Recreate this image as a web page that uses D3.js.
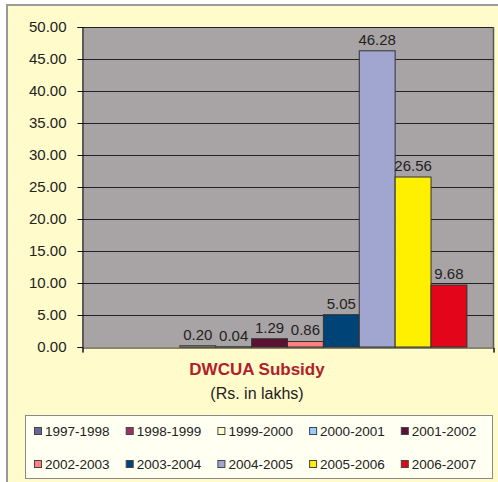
<!DOCTYPE html>
<html><head><meta charset="utf-8">
<script src="https://cdn.jsdelivr.net/npm/d3@7/dist/d3.min.js"></script>
<style>body{margin:0;background:#fff}svg{display:block;font-family:"Liberation Sans",Arial,sans-serif}</style>
</head><body>
<script>
const categories = ["1997-1998","1998-1999","1999-2000","2000-2001","2001-2002","2002-2003","2003-2004","2004-2005","2005-2006","2006-2007"];
const values = [null, null, 0.20, 0.04, 1.29, 0.86, 5.05, 46.28, 26.56, 9.68];
const labels = ["", "", "0.20", "0.04", "1.29", "0.86", "5.05", "46.28", "26.56", "9.68"];
const colors = ["#666699","#993366","#FFFFCC","#99CCFF","#5C1033","#FF8080","#004477","#A0A6D0","#FFF000","#E3061A"];
const yTicks = [0,5,10,15,20,25,30,35,40,45,50];
const title = "DWCUA Subsidy";
const subtitle = "(Rs. in lakhs)";

const W = 498, H = 482;
const svg = d3.select("body").append("svg").attr("width", W).attr("height", H);

svg.append("rect").attr("x",7).attr("y",5).attr("width",520).attr("height",520)
  .attr("fill","#FFFBCB").attr("stroke","#9a9a9a").attr("stroke-width",2);

const pl = 82, pr = 493, pt = 27, pb = 347;
const y = d3.scaleLinear().domain([0,50]).range([pb, pt]);
const gap = (pr - pl) * 0.0635;
const x = d3.scaleBand().domain(categories).range([pl + gap, pr - gap]).padding(0);

svg.append("rect").attr("x",pl).attr("y",pt).attr("width",pr-pl).attr("height",pb-pt)
  .attr("fill","#A8A4A6");

// gridlines
svg.append("g").selectAll("line").data(yTicks.filter(d=>d>0)).join("line")
  .attr("x1",pl).attr("x2",pr).attr("y1",d=>Math.round(y(d))+0.5).attr("y2",d=>Math.round(y(d))+0.5)
  .attr("stroke","#222").attr("stroke-width",1.2);
// right border
svg.append("line").attr("x1",pr+0.5).attr("x2",pr+0.5).attr("y1",pt).attr("y2",pb)
  .attr("stroke","#555").attr("stroke-width",1.5);

const rows = categories.map((c,i)=>({c, v: values[i], col: colors[i], lab: labels[i]})).filter(d=>d.v!=null);

// bars
svg.append("g").selectAll("rect").data(rows).join("rect")
  .attr("x",d=>x(d.c)).attr("width",x.bandwidth())
  .attr("y",d=>y(d.v)).attr("height",d=>pb - y(d.v))
  .attr("fill",d=>d.col).attr("stroke","#333").attr("stroke-width",1);

// data labels
svg.append("g").selectAll("text").data(rows).join("text")
  .attr("x",d=>x(d.c)+x.bandwidth()/2).attr("y",d=>y(d.v)-6)
  .attr("text-anchor","middle").attr("font-size",15).attr("fill","#222")
  .text(d=>d.lab);

// y axis
const yAxis = d3.axisLeft(y).tickValues(yTicks).tickFormat(d3.format(".2f")).tickSize(5).tickPadding(11);
const ga = svg.append("g").attr("transform",`translate(${pl+0.5},0)`).call(yAxis);
ga.select(".domain").attr("stroke","#111");
ga.selectAll(".tick line").attr("stroke","#111");
ga.selectAll("text").attr("font-size",15).attr("fill","#222").attr("font-family","Liberation Sans, Arial, sans-serif");

// x axis
const xAxis = d3.axisBottom(d3.scaleLinear().domain([0,1]).range([pl,pr])).tickValues([0,1]).tickSize(5).tickFormat("");
const gx = svg.append("g").attr("transform",`translate(0.5,${pb+0.5})`).call(xAxis);
gx.select(".domain").attr("stroke","#111");
gx.selectAll(".tick line").attr("stroke","#111");

// titles
svg.append("text").attr("x",257).attr("y",375).attr("text-anchor","middle")
  .attr("font-size",17).attr("font-weight","bold").attr("fill","#B0202A").text(title);
svg.append("text").attr("x",257).attr("y",399).attr("text-anchor","middle")
  .attr("font-size",16).attr("fill","#222").text(subtitle);

// legend
svg.append("rect").attr("x",25.5).attr("y",415.5).attr("width",467).attr("height",63)
  .attr("fill","#FFFFF2").attr("stroke","#8a8a8a").attr("stroke-width",1);
const lg = svg.append("g").selectAll("g").data(categories).join("g")
  .attr("transform",(d,i)=>`translate(${34 + (i%5)*91.7},${(i<5)?431:464})`);
lg.append("rect").attr("x",0.5).attr("y",-3.5).attr("width",7).attr("height",7)
  .attr("fill",(d,i)=>colors[i]).attr("stroke","#444").attr("stroke-width",1);
lg.append("text").attr("x",11).attr("y",5).attr("font-size",13.5).attr("fill","#222").text(d=>d);
</script>
</body></html>
